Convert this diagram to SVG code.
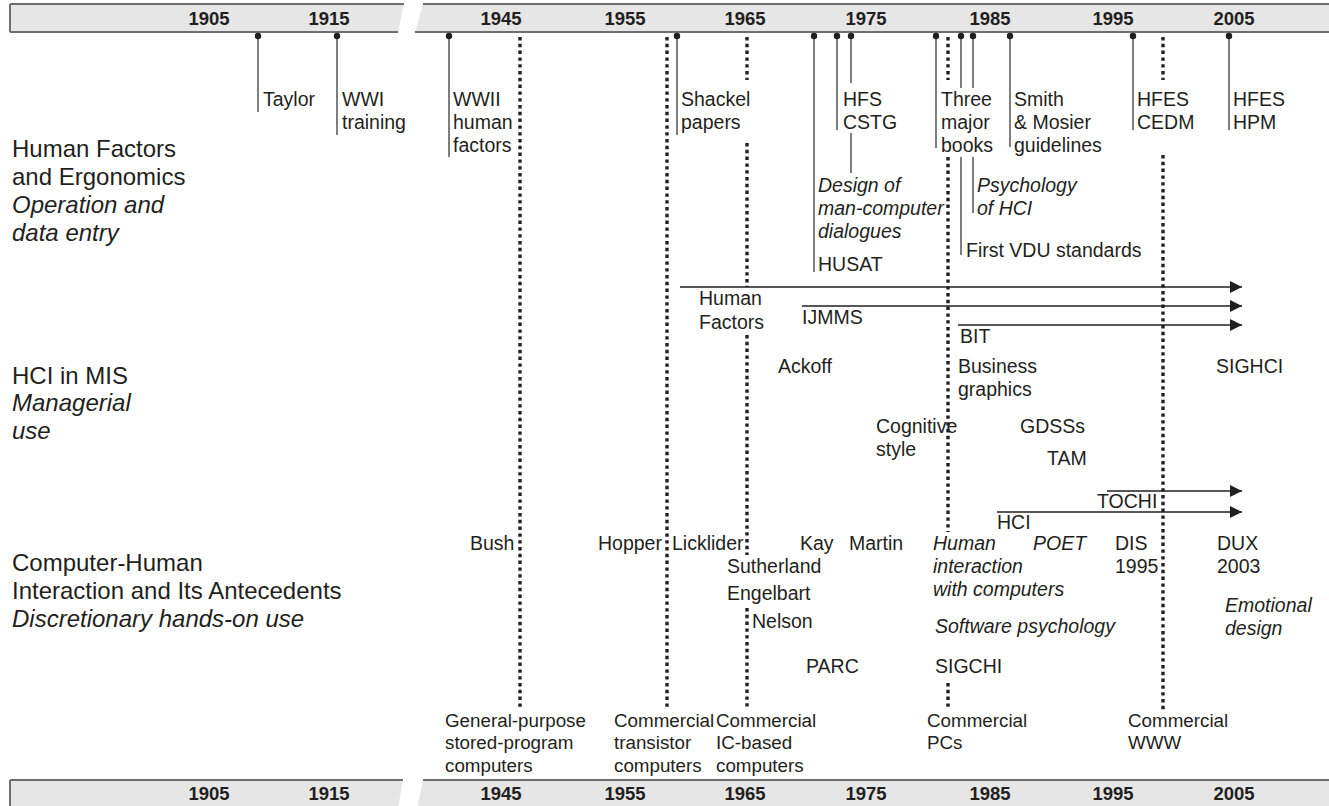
<svg xmlns="http://www.w3.org/2000/svg" width="1329" height="806" viewBox="0 0 1329 806">
  <style>
    .t { font-family: "Liberation Sans", Arial, sans-serif; font-size: 19.5px; fill: #231f20; }
    .i { font-style: italic; }
    .lab { font-size: 24px; }
    .era { font-size: 18.8px; }
    .yr { font-family: "Liberation Sans", Arial, sans-serif; font-size: 18.5px; font-weight: bold; fill: #231f20; text-anchor: middle; }
    .bar { fill: #e6e6e7; }
    .edge { stroke: #6d6e70; stroke-width: 2; fill: none; }
    .lead { stroke: #3a3a3a; stroke-width: 1.3; fill: none; }
    .dot { fill: #231f20; }
    .dash { stroke: #231f20; stroke-width: 3.4; stroke-dasharray: 3.4 3.4; fill: none; }
    .arr { stroke: #231f20; stroke-width: 1.5; fill: none; marker-end: url(#head); }
  </style>
  <defs>
    <marker id="head" markerUnits="userSpaceOnUse" markerWidth="13" markerHeight="12" refX="12" refY="6" orient="auto">
      <path d="M0,0 L12,6 L0,12 Z" fill="#231f20"/>
    </marker>
  </defs>
  <rect width="1329" height="806" fill="#ffffff"/>

  <!-- top time axis -->
  <g id="axis-top">
    <polygon class="bar" points="10,4 404,4 398,32 10,32"/>
    <polygon class="bar" points="423,4 1329,4 1329,32 415,32"/>
    <path class="edge" d="M10,4 H404 M10,32 H398 M10,4 V32 M423,4 H1329 M415,32 H1329"/>
    <text class="yr" x="209" y="25">1905</text>
    <text class="yr" x="329" y="25">1915</text>
    <text class="yr" x="501" y="25">1945</text>
    <text class="yr" x="625" y="25">1955</text>
    <text class="yr" x="745" y="25">1965</text>
    <text class="yr" x="866" y="25">1975</text>
    <text class="yr" x="990" y="25">1985</text>
    <text class="yr" x="1113" y="25">1995</text>
    <text class="yr" x="1234" y="25">2005</text>
  </g>

  <!-- bottom time axis -->
  <g id="axis-bottom">
    <polygon class="bar" points="10,780 403,780 398,808 10,808"/>
    <polygon class="bar" points="423,780 1329,780 1329,808 417,808"/>
    <path class="edge" d="M10,780 H403 M10,780 V808 M423,780 H1329"/>
    <text class="yr" x="209" y="800">1905</text>
    <text class="yr" x="329" y="800">1915</text>
    <text class="yr" x="501" y="800">1945</text>
    <text class="yr" x="625" y="800">1955</text>
    <text class="yr" x="745" y="800">1965</text>
    <text class="yr" x="866" y="800">1975</text>
    <text class="yr" x="990" y="800">1985</text>
    <text class="yr" x="1113" y="800">1995</text>
    <text class="yr" x="1234" y="800">2005</text>
  </g>

  <!-- field labels -->
  <g id="field-hfe">
    <text class="t lab" x="12" y="157">Human Factors</text>
    <text class="t lab" x="12" y="185">and Ergonomics</text>
    <text class="t lab i" x="12" y="213">Operation and</text>
    <text class="t lab i" x="12" y="241">data entry</text>
  </g>
  <g id="field-mis">
    <text class="t lab" x="12" y="384">HCI in MIS</text>
    <text class="t lab i" x="12" y="411">Managerial</text>
    <text class="t lab i" x="12" y="439">use</text>
  </g>
  <g id="field-chi">
    <text class="t lab" x="12" y="571">Computer-Human</text>
    <text class="t lab" x="12" y="599">Interaction and Its Antecedents</text>
    <text class="t lab i" x="12" y="627">Discretionary hands-on use</text>
  </g>

  <!-- technology eras: dotted verticals -->
  <g id="connectors-eras">
    <path class="dash" d="M520,37 V710"/>
    <path class="dash" d="M667,37 V710"/>
    <path class="dash" d="M747,37 V80 M747,143 V287 M747,335 V555 M747,608 V710"/>
    <path class="dash" d="M948,37 V80 M948,157 V532 M948,683 V710"/>
    <path class="dash" d="M1163,37 V80 M1163,155 V710"/>
  </g>

  <!-- leaders from the axis -->
  <g id="connectors-leaders">
    <path class="lead" d="M258,36 V112"/>
    <path class="lead" d="M337,36 V135"/>
    <path class="lead" d="M449,36 V157"/>
    <path class="lead" d="M677,36 V135"/>
    <path class="lead" d="M814,36 V272"/>
    <path class="lead" d="M837,36 V130"/>
    <path class="lead" d="M851,36 V83 M851,133 V173"/>
    <path class="lead" d="M936,36 V148"/>
    <path class="lead" d="M961,36 V88 M961,157 V255"/>
    <path class="lead" d="M973,36 V88 M973,157 V213"/>
    <path class="lead" d="M1010,36 V147"/>
    <path class="lead" d="M1133,36 V130"/>
    <path class="lead" d="M1229,36 V130"/>
    <g class="dot">
      <circle cx="258" cy="36" r="3.2"/>
      <circle cx="337" cy="36" r="3.2"/>
      <circle cx="449" cy="36" r="3.2"/>
      <circle cx="677" cy="36" r="3.2"/>
      <circle cx="814" cy="36" r="3.2"/>
      <circle cx="837" cy="36" r="3.2"/>
      <circle cx="851" cy="36" r="3.2"/>
      <circle cx="936" cy="36" r="3.2"/>
      <circle cx="961" cy="36" r="3.2"/>
      <circle cx="973" cy="36" r="3.2"/>
      <circle cx="1010" cy="36" r="3.2"/>
      <circle cx="1133" cy="36" r="3.2"/>
      <circle cx="1229" cy="36" r="3.2"/>
    </g>
  </g>

  <!-- continuing journals and conferences -->
  <g id="connectors-arrows">
    <path class="arr" d="M680,287 H1242"/>
    <path class="arr" d="M802,306 H1242"/>
    <path class="arr" d="M958,325 H1242"/>
    <path class="arr" d="M1107,491 H1242"/>
    <path class="arr" d="M997,512 H1242"/>
  </g>

  <!-- human factors events -->
  <g id="ev-taylor"><text class="t" x="263" y="106">Taylor</text></g>
  <g id="ev-wwi"><text class="t" x="342" y="106">WWI</text><text class="t" x="342" y="129">training</text></g>
  <g id="ev-wwii"><text class="t" x="453" y="106">WWII</text><text class="t" x="453" y="129">human</text><text class="t" x="453" y="152">factors</text></g>
  <g id="ev-shackel"><text class="t" x="681" y="106">Shackel</text><text class="t" x="681" y="129">papers</text></g>
  <g id="ev-hfs-cstg"><text class="t" x="843" y="106">HFS</text><text class="t" x="843" y="129">CSTG</text></g>
  <g id="ev-design"><text class="t i" x="818" y="192">Design of</text><text class="t i" x="818" y="215">man-computer</text><text class="t i" x="818" y="238">dialogues</text></g>
  <g id="ev-husat"><text class="t" x="818" y="271">HUSAT</text></g>
  <g id="ev-books"><text class="t" x="941" y="106">Three</text><text class="t" x="941" y="129">major</text><text class="t" x="941" y="152">books</text></g>
  <g id="ev-psych-hci"><text class="t i" x="977" y="192">Psychology</text><text class="t i" x="977" y="215">of HCI</text></g>
  <g id="ev-vdu"><text class="t" x="966" y="257">First VDU standards</text></g>
  <g id="ev-smith"><text class="t" x="1014" y="106">Smith</text><text class="t" x="1014" y="129">&amp; Mosier</text><text class="t" x="1014" y="152">guidelines</text></g>
  <g id="ev-hfes-cedm"><text class="t" x="1137" y="106">HFES</text><text class="t" x="1137" y="129">CEDM</text></g>
  <g id="ev-hfes-hpm"><text class="t" x="1233" y="106">HFES</text><text class="t" x="1233" y="129">HPM</text></g>

  <!-- journals -->
  <g id="jr-hf"><text class="t" x="699" y="305">Human</text><text class="t" x="699" y="329">Factors</text></g>
  <g id="jr-ijmms"><text class="t" x="802" y="324">IJMMS</text></g>
  <g id="jr-bit"><text class="t" x="960" y="343">BIT</text></g>
  <g id="jr-tochi"><text class="t" x="1097" y="508">TOCHI</text></g>
  <g id="jr-hci"><text class="t" x="997" y="529">HCI</text></g>

  <!-- MIS events -->
  <g id="mis-ackoff"><text class="t" x="778" y="373">Ackoff</text></g>
  <g id="mis-graphics"><text class="t" x="958" y="373">Business</text><text class="t" x="958" y="396">graphics</text></g>
  <g id="mis-sighci"><text class="t" x="1216" y="373">SIGHCI</text></g>
  <g id="mis-cogstyle"><text class="t" x="876" y="433">Cognitive</text><text class="t" x="876" y="456">style</text></g>
  <g id="mis-gdss"><text class="t" x="1020" y="433">GDSSs</text></g>
  <g id="mis-tam"><text class="t" x="1047" y="465">TAM</text></g>

  <!-- CHI events -->
  <g id="chi-bush"><text class="t" x="470" y="550">Bush</text></g>
  <g id="chi-hopper"><text class="t" x="598" y="550">Hopper</text></g>
  <g id="chi-licklider"><text class="t" x="672" y="550">Licklider</text></g>
  <g id="chi-kay"><text class="t" x="800" y="550">Kay</text></g>
  <g id="chi-martin"><text class="t" x="849" y="550">Martin</text></g>
  <g id="chi-hiwc"><text class="t i" x="933" y="550">Human</text><text class="t i" x="933" y="573">interaction</text><text class="t i" x="933" y="596">with computers</text></g>
  <g id="chi-poet"><text class="t i" x="1033" y="550">POET</text></g>
  <g id="chi-dis"><text class="t" x="1115" y="550">DIS</text><text class="t" x="1115" y="573">1995</text></g>
  <g id="chi-dux"><text class="t" x="1217" y="550">DUX</text><text class="t" x="1217" y="573">2003</text></g>
  <g id="chi-sutherland"><text class="t" x="727" y="573">Sutherland</text></g>
  <g id="chi-engelbart"><text class="t" x="727" y="600">Engelbart</text></g>
  <g id="chi-nelson"><text class="t" x="752" y="628">Nelson</text></g>
  <g id="chi-swpsych"><text class="t i" x="935" y="633">Software psychology</text></g>
  <g id="chi-emotional"><text class="t i" x="1225" y="612">Emotional</text><text class="t i" x="1225" y="635">design</text></g>
  <g id="chi-parc"><text class="t" x="806" y="673">PARC</text></g>
  <g id="chi-sigchi"><text class="t" x="935" y="673">SIGCHI</text></g>

  <!-- computing eras -->
  <g id="era-stored"><text class="t era" x="445" y="727">General-purpose</text><text class="t era" x="445" y="749">stored-program</text><text class="t era" x="445" y="772">computers</text></g>
  <g id="era-transistor"><text class="t era" x="614" y="727">Commercial</text><text class="t era" x="614" y="749">transistor</text><text class="t era" x="614" y="772">computers</text></g>
  <g id="era-ic"><text class="t era" x="716" y="727">Commercial</text><text class="t era" x="716" y="749">IC-based</text><text class="t era" x="716" y="772">computers</text></g>
  <g id="era-pc"><text class="t era" x="927" y="727">Commercial</text><text class="t era" x="927" y="749">PCs</text></g>
  <g id="era-www"><text class="t era" x="1128" y="727">Commercial</text><text class="t era" x="1128" y="749">WWW</text></g>
</svg>
